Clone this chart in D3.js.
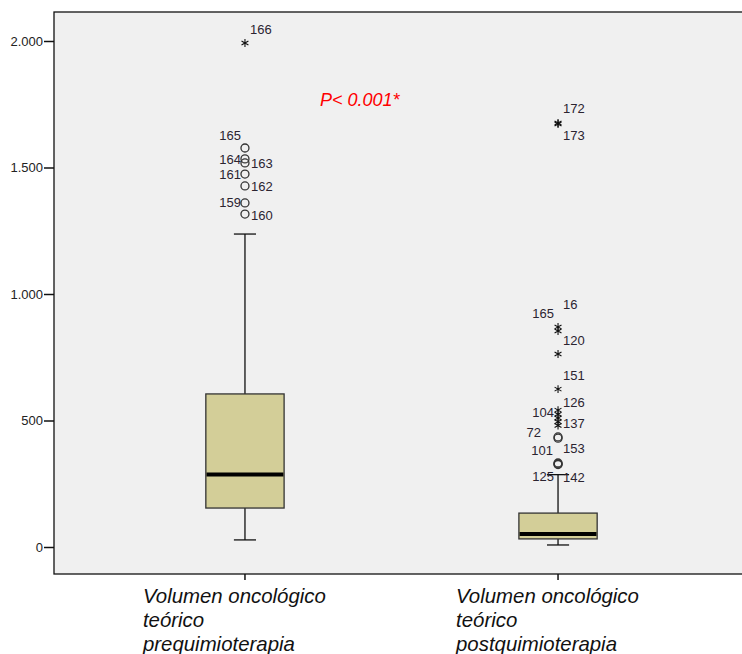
<!DOCTYPE html>
<html>
<head>
<meta charset="utf-8">
<script src="https://cdn.jsdelivr.net/npm/d3@7"></script>
<style>
  html, body { margin: 0; padding: 0; background: #ffffff; }
  svg { display: block; font-family: "Liberation Sans", Arial, sans-serif; }
</style>
</head>
<body>
<svg id="chart" width="742" height="654"></svg>
<script>
// Category names (each drawn on three lines under its box)
const categories = ["pre", "post"];
const categoryLines = [
  ["Volumen oncológico", "teórico", "prequimioterapia"],
  ["Volumen oncológico", "teórico", "postquimioterapia"]
];

// Box summary per category: lower whisker, Q1, median, Q3, upper whisker
const whiskerLow = [28, 8];
const q1 = [154, 32];
const median = [287, 51];
const q3 = [605, 134];
const whiskerHigh = [1237, 286];

// Outlying cases: category, value, case number ("" = unlabeled), kind (o = outlier, * = extreme)
const outCategory = ["pre", "pre", "pre", "pre", "pre", "pre", "pre", "pre",
                     "post", "post", "post", "post", "post", "post", "post", "post", "post",
                     "post", "post", "post", "post", "post", "post", "post"];
const outValue = [1992, 1577, 1534, 1518, 1474, 1427, 1360, 1316,
                  1676, 1672, 870, 854, 763, 624, 541, 525, 510, 495, 480, 435, 430, 332, 328, 326];
const outCase = ["166", "165", "164", "163", "161", "162", "159", "160",
                 "172", "173", "16", "165", "120", "151", "126", "104", "", "", "137", "72", "153", "101", "125", "142"];
const outKind = ["*", "o", "o", "o", "o", "o", "o", "o",
                 "*", "*", "*", "*", "*", "*", "*", "*", "*", "*", "*", "o", "o", "o", "o", "o"];

// Y axis ticks
const yTicks = [0, 500, 1000, 1500, 2000];
const pLabel = "P< 0.001*";

// Case-label placement around each marker (side, vertical shift, extra horizontal gap in px)
const labelPlace = {
  "pre|166": ["r", -14, 0], "pre|165": ["l", -13, 0], "pre|164": ["l", 1, 0], "pre|163": ["r", 1, 1],
  "pre|161": ["l", 0, 0], "pre|162": ["r", 0, 1], "pre|159": ["l", 0, 0], "pre|160": ["r", 1, 1],
  "post|172": ["r", -15, 0], "post|173": ["r", 11, 0], "post|16": ["r", -22, 0], "post|165": ["l", -17, 0],
  "post|120": ["r", -14, 0], "post|151": ["r", -14, 0], "post|126": ["r", -8, 0], "post|104": ["l", -2, 0],
  "post|137": ["r", -2, 0], "post|72": ["l", -4, 13], "post|153": ["r", 10, 0], "post|101": ["l", -13, 1],
  "post|125": ["l", 12, 0], "post|142": ["r", 13, 0]
};

const svg = d3.select("#chart");
const plot = { left: 54, top: 12, bottom: 574, width: 695 };

const x = d3.scaleBand()
  .domain(categories)
  .range([plot.left, plot.left + plot.width])
  .paddingInner(0)
  .paddingOuter(0.11);

const y = d3.scaleLinear()
  .domain([0, 2000])
  .range([547, 41]);

// Plot background and frame (right edge runs past the window)
svg.append("rect")
  .attr("x", plot.left).attr("y", plot.top)
  .attr("width", plot.width).attr("height", plot.bottom - plot.top)
  .attr("fill", "#f0f0f0")
  .attr("stroke", "#111").attr("stroke-width", 1.3);

// Y axis
const yAxis = d3.axisLeft(y)
  .tickValues(yTicks)
  .tickSize(10)
  .tickPadding(1)
  .tickFormat(d => d3.format(",")(d).replace(/,/g, "."));
const gy = svg.append("g").attr("transform", `translate(${plot.left},0)`).call(yAxis);
gy.select(".domain").remove();
gy.selectAll(".tick line").attr("stroke", "#111").attr("stroke-width", 1.5);
gy.selectAll(".tick text")
  .attr("font-size", 13)
  .attr("fill", "#222")
  .attr("font-family", "'Liberation Sans', Arial, sans-serif");

// X axis ticks
const xAxis = d3.axisBottom(x).tickSize(6).tickFormat("");
const gx = svg.append("g").attr("transform", `translate(0,${plot.bottom})`).call(xAxis);
gx.select(".domain").remove();
gx.selectAll(".tick line").attr("stroke", "#111").attr("stroke-width", 1.5);

// Category labels
const boxW = x.bandwidth() * 0.25;
categories.forEach((c, i) => {
  const cx = x(c) + x.bandwidth() / 2;
  const t = svg.append("text")
    .attr("x", cx - 102)
    .attr("y", 603)
    .attr("font-size", 20.4)
    .attr("font-style", "italic")
    .attr("fill", "#111");
  categoryLines[i].forEach((line, k) => {
    t.append("tspan").attr("x", cx - 102).attr("dy", k === 0 ? 0 : 24).text(line);
  });
});

// Boxes
categories.forEach((c, i) => {
  const cx = x(c) + x.bandwidth() / 2;
  const g = svg.append("g");
  const capW = boxW * 0.27;
  // whiskers
  g.append("line")
    .attr("x1", cx).attr("x2", cx)
    .attr("y1", y(q3[i])).attr("y2", y(whiskerHigh[i]))
    .attr("stroke", "#111").attr("stroke-width", 1.3);
  g.append("line")
    .attr("x1", cx).attr("x2", cx)
    .attr("y1", y(q1[i])).attr("y2", y(whiskerLow[i]))
    .attr("stroke", "#111").attr("stroke-width", 1.3);
  g.append("line")
    .attr("x1", cx - capW / 2 - 0.5).attr("x2", cx + capW / 2 + 0.5)
    .attr("y1", y(whiskerHigh[i])).attr("y2", y(whiskerHigh[i]))
    .attr("stroke", "#111").attr("stroke-width", 1.3);
  g.append("line")
    .attr("x1", cx - capW / 2 - 0.5).attr("x2", cx + capW / 2 + 0.5)
    .attr("y1", y(whiskerLow[i])).attr("y2", y(whiskerLow[i]))
    .attr("stroke", "#111").attr("stroke-width", 1.3);
  // box
  g.append("rect")
    .attr("x", cx - boxW / 2).attr("width", boxW)
    .attr("y", y(q3[i])).attr("height", y(q1[i]) - y(q3[i]))
    .attr("fill", "#d3ce98")
    .attr("stroke", "#333").attr("stroke-width", 1.3);
  // median
  g.append("line")
    .attr("x1", cx - boxW / 2 + 0.7).attr("x2", cx + boxW / 2 - 0.7)
    .attr("y1", y(median[i])).attr("y2", y(median[i]))
    .attr("stroke", "#000").attr("stroke-width", 4);
});

// Outliers and extremes
const star = d3.symbol().type(d3.symbolAsterisk).size(44);
outValue.forEach((v, j) => {
  const c = outCategory[j];
  const cx = x(c) + x.bandwidth() / 2;
  const cy = y(v);
  if (outKind[j] === "o") {
    svg.append("circle")
      .attr("cx", cx).attr("cy", cy).attr("r", 4)
      .attr("fill", "none").attr("stroke", "#333").attr("stroke-width", 1.3);
  } else {
    svg.append("path")
      .attr("d", star())
      .attr("transform", `translate(${cx},${cy})`)
      .attr("fill", "none").attr("stroke", "#111").attr("stroke-width", 1.1);
  }
  const id = outCase[j];
  if (id) {
    const p = labelPlace[c + "|" + id] || ["r", 0, 0];
    const side = p[0];
    const gap = p[2];
    svg.append("text")
      .attr("x", side === "r" ? cx + 5 + gap : cx - 4 - gap)
      .attr("y", cy + p[1])
      .attr("dy", "0.35em")
      .attr("text-anchor", side === "r" ? "start" : "end")
      .attr("font-size", 13)
      .attr("fill", "#2b2430")
      .text(id);
  }
});

// Significance annotation
svg.append("text")
  .attr("x", 320)
  .attr("y", 106)
  .attr("font-size", 18)
  .attr("font-style", "italic")
  .attr("fill", "#ff0000")
  .text(pLabel);
</script>
</body>
</html>
